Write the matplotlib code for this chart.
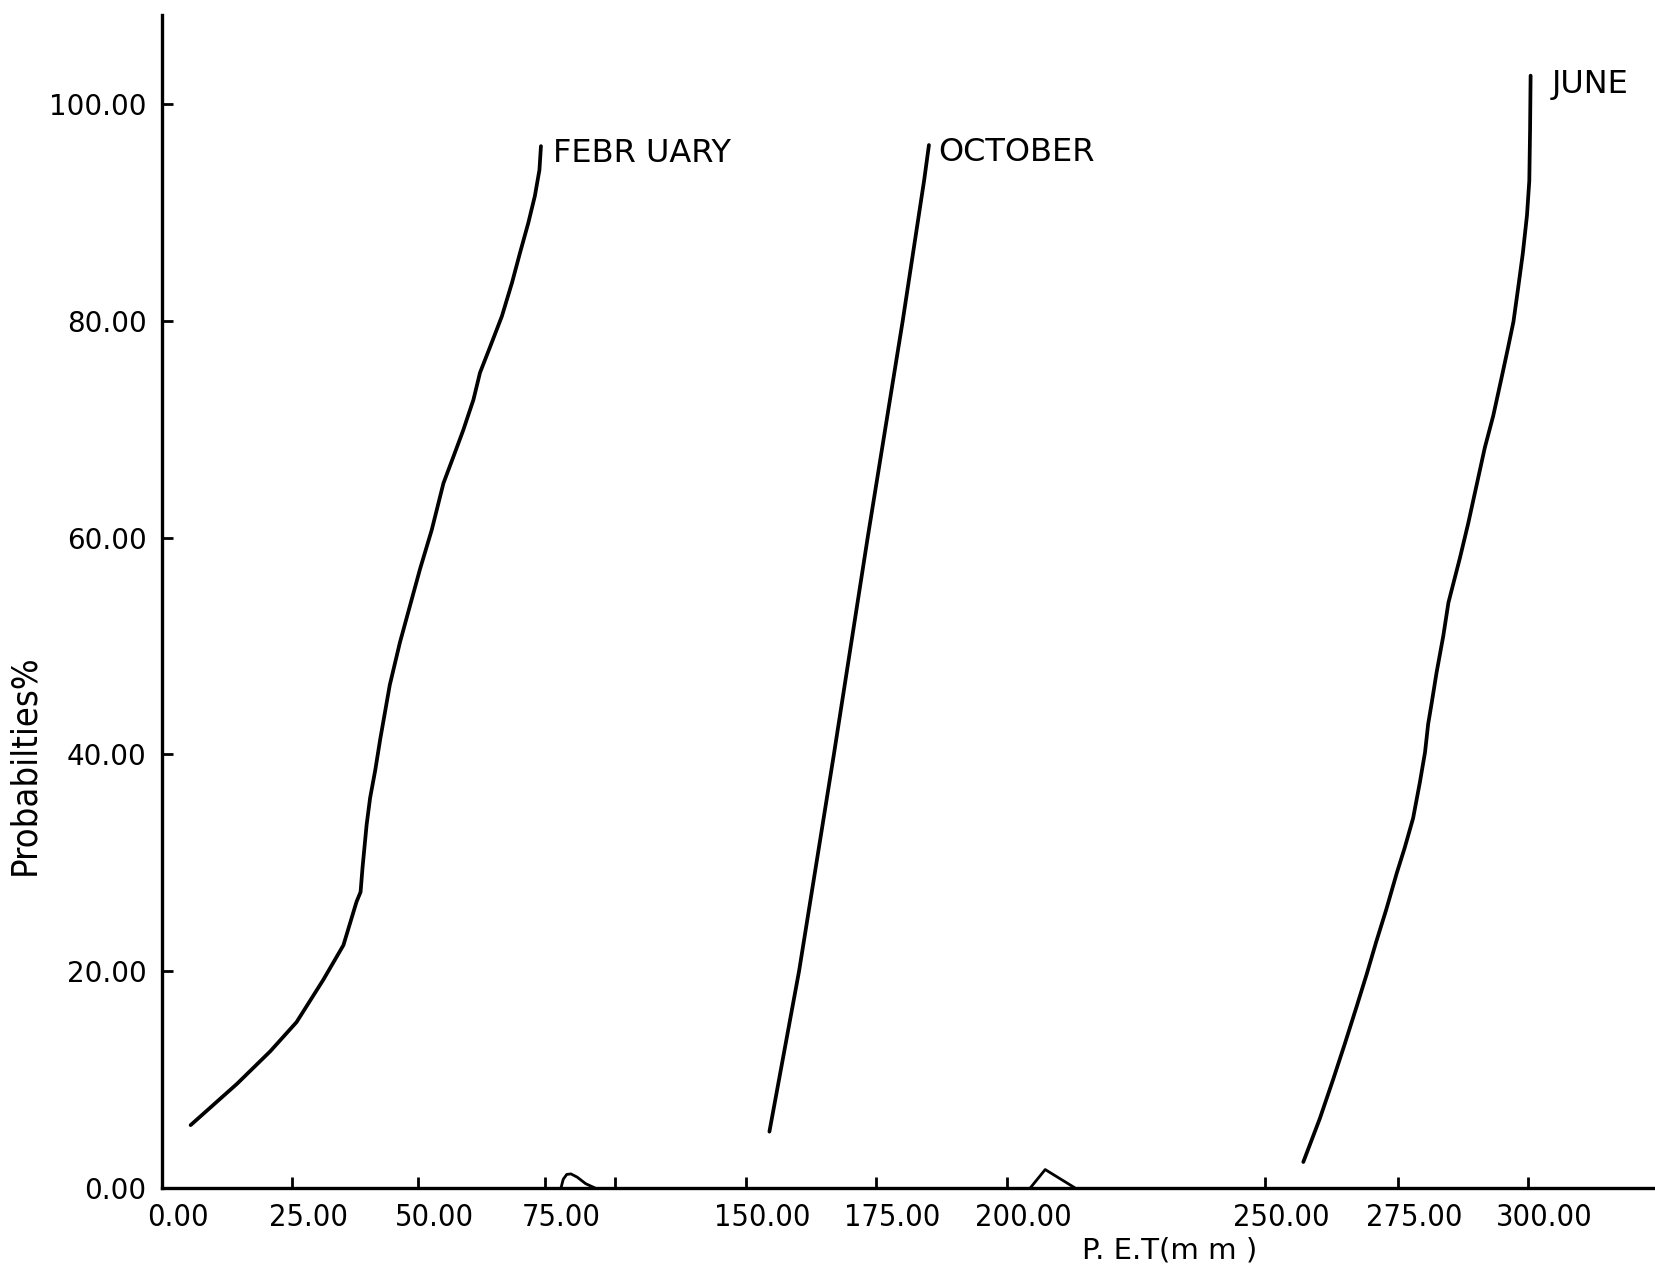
import numpy as np
import matplotlib.pyplot as plt
from matplotlib.transforms import ScaledTranslation

# ---------- данные (P.E.T, мм / вероятность, %) ----------
feb_pet = [5.5, 14.4, 20.8, 25.9, 31.2, 35.2, 37.8, 38.6, 39.0, 39.8, 40.5, 41.5,
           42.5, 44.4, 46.4, 48.4, 50.4, 52.7, 55.0, 57.0, 58.9, 60.9, 62.2, 64.2,
           66.5, 68.5, 70.1, 71.7, 73.0, 73.9, 74.2]
feb_prob = [5.8, 9.6, 12.6, 15.3, 19.2, 22.4, 26.4, 27.3, 29.6, 33.5, 36.0, 38.5,
            41.4, 46.4, 50.3, 53.7, 57.1, 60.7, 65.0, 67.5, 69.9, 72.7, 75.2, 77.6,
            80.4, 83.5, 86.3, 89.0, 91.5, 93.9, 96.1]

oct_pet = [154.5, 160.2, 166.9, 173.4, 180.1, 184.2, 185.1]
oct_prob = [5.2, 20.0, 40.0, 60.0, 80.0, 93.0, 96.2]

jun_pet = [257.2, 260.3, 262.8, 265.0, 267.2, 269.1, 270.9, 272.8, 274.8, 276.3,
           277.9, 279.2, 280.2, 280.8, 281.5, 282.4, 283.7, 284.7, 286.9, 288.5,
           290.1, 291.7, 293.3, 294.9, 296.2, 297.2, 298.1, 299.0, 299.8, 300.25,
           300.4, 300.5]
jun_prob = [2.4, 6.4, 10.0, 13.3, 16.7, 19.7, 22.7, 25.7, 29.1, 31.4,
            34.1, 37.4, 40.2, 42.8, 44.8, 47.5, 50.9, 54.0, 58.1, 61.3,
            64.8, 68.3, 71.2, 74.7, 77.6, 79.9, 83.0, 86.2, 89.7, 92.9,
            97.7, 102.6]

series = [
    ('FEBR UARY', feb_pet, feb_prob),
    ('OCTOBER', oct_pet, oct_prob),
    ('JUNE', jun_pet, jun_prob),
]

x_ticks = [0, 25, 50, 75, 125, 150, 175, 200, 250, 275, 300]
x_tick_labels = ['0.00', '25.00', '50.00', '75.00', '', '150.00', '175.00',
                 '200.00', '250.00', '275.00', '300.00']
y_ticks = [0, 20, 40, 60, 80, 100]
y_tick_labels = ['0.00', '20.00', '40.00', '60.00', '80.00', '100.00']

# значки разрыва на оси X
break_1_x = [86.4, 88.0, 90.5, 93.5, 98.0, 104.0, 110.7]
break_1_y = [0.0, 0.8, 1.25, 1.3, 1.0, 0.4, 0.0]
break_2_x = [204.5, 207.4, 213.2]
break_2_y = [0.0, 1.7, 0.0]

# ---------- ось X с разрывом 75..125: кусочно-линейная шкала ----------
scale_vals = np.array([0, 25, 50, 75, 125, 150, 175, 200, 250, 275, 300, 324.4])
scale_pos = np.array([162, 292, 418, 545, 615, 746, 876, 1007, 1265, 1398, 1528, 1655])


def fwd(x):
    return np.interp(x, scale_vals, scale_pos)


def inv(p):
    return np.interp(p, scale_pos, scale_vals)


fig = plt.figure(figsize=(16.55, 12.68), dpi=100)
ax = fig.add_axes([0.0979, 0.0631, 0.9021, 0.9251])
ax.set_xscale('function', functions=(fwd, inv))
ax.set_xlim(0, 324.4)
ax.set_ylim(0, 108.2)

for name, xs, ys in series:
    ax.plot(xs, ys, color='black', linewidth=2.7, solid_capstyle='round',
            solid_joinstyle='round')

# подписи месяцев у верхних концов кривых
offsets = {'FEBR UARY': (9, -5), 'OCTOBER': (7, -5), 'JUNE': (15, -6)}
for name, xs, ys in series:
    ax.annotate(name, xy=(xs[-1], ys[-1]), xytext=offsets[name],
                textcoords='offset points', ha='left', va='center',
                fontsize=23, family='DejaVu Sans')

ax.plot(break_1_x, break_1_y, color='black', linewidth=2.0, clip_on=False,
        solid_joinstyle='round')
ax.plot(break_2_x, break_2_y, color='black', linewidth=2.0, clip_on=False)

for side in ['top', 'right']:
    ax.spines[side].set_visible(False)
for side in ['left', 'bottom']:
    ax.spines[side].set_linewidth(2.4)

ax.set_xticks(x_ticks)
ax.set_xticklabels(x_tick_labels)
ax.set_yticks(y_ticks)
ax.set_yticklabels(y_tick_labels)
ax.tick_params(axis='both', direction='in', length=8, width=2)
ax.tick_params(axis='x', labelsize=22, pad=11)
ax.tick_params(axis='y', labelsize=20, pad=11)

shift = ScaledTranslation(0.16, 0, fig.dpi_scale_trans)
for lbl in ax.get_xticklabels():
    lbl.set_transform(lbl.get_transform() + shift)
    lbl.set_fontstretch('condensed')

fig.text(24 / 1655, 0.3967, 'Probabilties%', rotation=90, ha='center', va='center',
         fontsize=26, fontstretch='condensed')
fig.text(0.654, 3 / 1268, 'P. E.T(m m )', ha='left', va='bottom', fontsize=21)

fig.savefig('out.png', dpi=100, facecolor='white')
